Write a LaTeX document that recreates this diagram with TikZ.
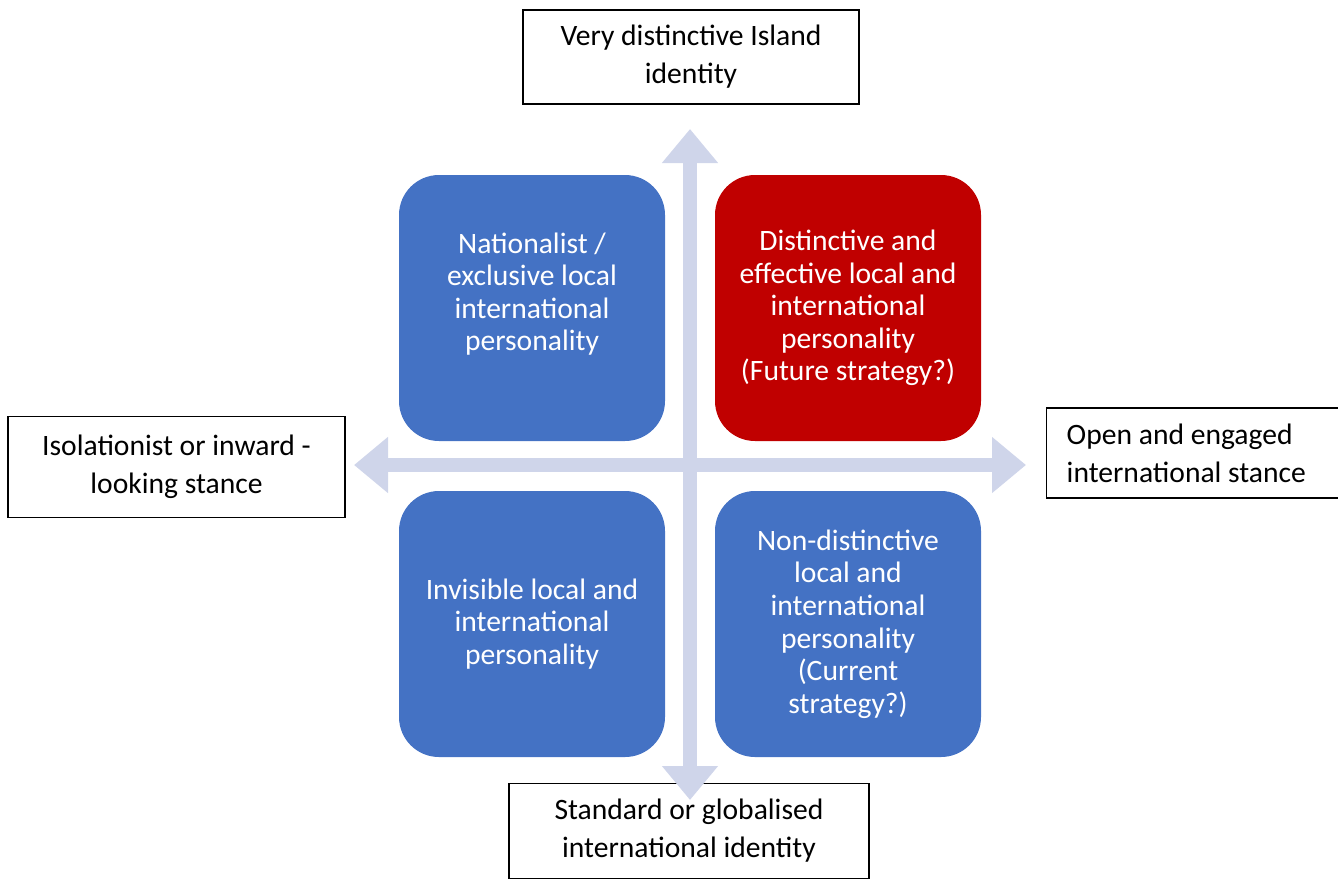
\documentclass[tikz,border=0pt]{standalone}
\usepackage{fontspec}
\setmainfont{Carlito}
\usetikzlibrary{arrows.meta}
\definecolor{quadblue}{HTML}{4472C4}
\definecolor{quadred}{HTML}{C00000}
\definecolor{axisgrey}{HTML}{CFD5EA}

\begin{document}
\begin{tikzpicture}
[
    x = 0.75pt, y = -0.75pt,
    quadrant/.style = {rounded corners = 30pt, minimum width = 199.5pt, minimum height = 199.5pt,
        text = white, align = center, font = \fontsize{22.2}{24.4}\selectfont},
    label box/.style = {draw, line width = 1.1pt, align = center, font = \fontsize{22.2}{28.5}\selectfont},
    axis/.style = {axisgrey, line width = 10.5pt,
        {Triangle[width = 40.5pt, length = 25.5pt]}-{Triangle[width = 40.5pt, length = 25.5pt]}}
]
\useasboundingbox (0, 0) rectangle (1338, 879);
\clip (0, 0) rectangle (1338, 879);

\node[quadrant, fill = quadblue] (nationalist) at (532, 308)
    {Nationalist /\\exclusive local\\international\\personality\\~};
\node[quadrant, fill = quadred] (distinctive) at (848, 308)
    {Distinctive and\\effective local and\\international\\personality\\(Future strategy?)};
\node[quadrant, fill = quadblue] (invisible) at (532, 624)
    {Invisible local and\\international\\personality};
\node[quadrant, fill = quadblue] (nondistinctive) at (848, 624)
    {Non-distinctive\\local and\\international\\personality\\(Current\\strategy?)};

\node[label box, minimum width = 252pt, minimum height = 70.5pt] (island) at (691, 57)
    {Very distinctive Island\\identity};
\node[label box, minimum width = 252.75pt, minimum height = 75.75pt] (inward) at (176.5, 467)
    {Isolationist or inward -\\looking stance};
\node[label box, minimum width = 270pt, minimum height = 71.25pt] (globalised) at (689, 831)
    {Standard or globalised\\international identity};
\node[label box, anchor = west, align = flush left, text width = 198pt, inner xsep = 15pt,
    minimum height = 67.5pt] (engaged) at (1046, 453)
    {Open and engaged\\international stance};

\coordinate (west end) at (354, 465);
\coordinate (east end) at (1026, 465);
\coordinate (north end) at (690, 129);
\coordinate (south end) at (690, 800);
\draw[axis] (west end) -- (east end);
\draw[axis] (south end) -- (north end);
\end{tikzpicture}
\end{document}
